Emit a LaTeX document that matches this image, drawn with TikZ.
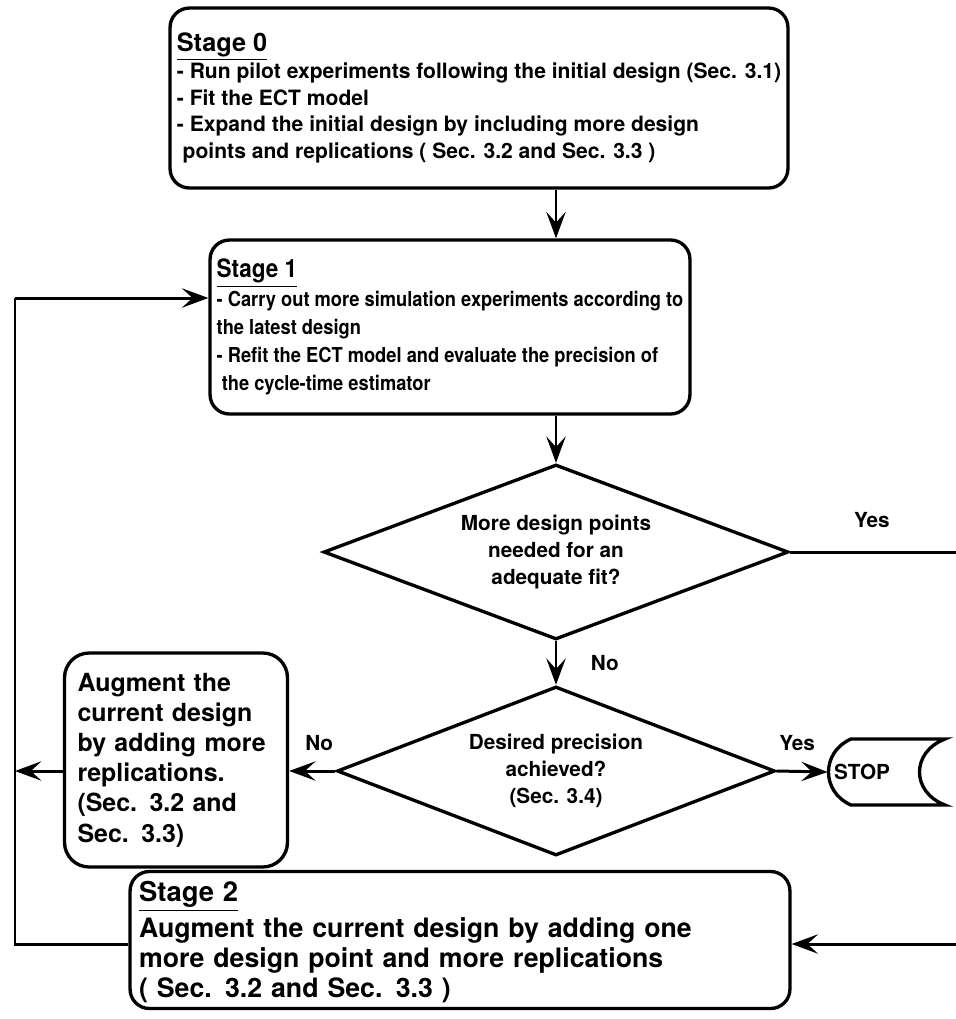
\documentclass[tikz,border=0pt]{standalone}
\usepackage{fontspec}
\setmainfont{TeX Gyre Heros}
\newfontfamily\narrowheros{TeX Gyre Heros}[FakeStretch=0.89]
\usetikzlibrary{shapes.geometric,arrows.meta}
\newcommand{\stagehead}[1]{{\fontsize{14.4}{16}\selectfont\underline{#1}}}

\begin{document}
\begin{tikzpicture}[x=0.02cm, y=-0.02cm,
    stagebox/.style={rectangle, rounded corners=11pt, draw=black, line width=1.9pt,
        align=left, inner xsep=0.1cm, inner ysep=0pt,
        font=\bfseries\fontsize{12}{15.2}\selectfont},
    decision/.style={diamond, draw=black, line width=1.9pt, aspect=2.6,
        inner sep=0pt, align=center, font=\bfseries\fontsize{11.8}{15.2}\selectfont},
    lbl/.style={font=\bfseries\fontsize{11.8}{14}\selectfont, inner sep=1pt},
    flow/.style={line width=1.7pt, -{Stealth[length=15pt, width=11pt, inset=6pt]}},
    line/.style={line width=1.7pt},
]
\useasboundingbox (0,0) rectangle (956,1019);
  % stages and decisions
  \node[stagebox, minimum width=12.36cm, minimum height=3.6cm] (s0) at (479, 98)
    {\stagehead{Stage 0}\\
     - Run pilot experiments following the initial design (Sec. 3.1)\\
     - Fit the ECT model\\
     - Expand the initial design by including more design\\
     \ points and replications ( Sec. 3.2 and Sec. 3.3 )};
  \node[stagebox, minimum width=9.6cm, minimum height=3.48cm,
    font=\bfseries\narrowheros\fontsize{11.7}{16}\selectfont] (s1) at (450, 327)
    {\stagehead{Stage 1}\\
     - Carry out more simulation experiments according to\\
     the latest design\\
     - Refit the ECT model and evaluate the precision of\\
     \ the cycle-time estimator};
  \node[decision, minimum width=9.3cm, minimum height=3.5cm] (d1) at (556, 552)
    {More design points\\ needed for an\\ adequate fit?};
  \node[decision, minimum width=8.76cm, minimum height=3.38cm] (d2) at (556, 771)
    {Desired precision\\ achieved?\\ (Sec. 3.4)};
  \node[stagebox, rounded corners=14pt, minimum width=4.46cm, minimum height=4.28cm,
    inner xsep=0.26cm, text width=3.94cm,
    font=\bfseries\fontsize{14.2}{17.2}\selectfont] (aug) at (176, 760)
    {Augment the\\ current design\\ by adding more\\ replications.\\ (Sec. 3.2 and\\ Sec. 3.3)};
  \node[stagebox, minimum width=13.2cm, minimum height=2.74cm, inner xsep=0.18cm, text width=12.84cm,
    font=\bfseries\fontsize{15.2}{17.2}\selectfont] (s2) at (460, 940)
    {\rule{0pt}{14pt}{\fontsize{15.6}{17}\selectfont\underline{Stage 2}}\\[3pt]
     Augment the current design by adding one\\
     more design point and more replications\\
     ( Sec. 3.2 and Sec. 3.3 )};
  \node[font=\bfseries\fontsize{11.8}{14}\selectfont, minimum width=1.36cm, minimum height=1.32cm] (stop) at (862, 772) {STOP};
  \draw[line width=1.9pt] (851, 739) -- (945, 739) .. controls (911, 752) and (911, 792) .. (945, 805)
    -- (851, 805) .. controls (821, 792) and (821, 752) .. (851, 739) -- cycle;
  % loop coordinates
  \coordinate (loopL) at (15, 0);
  \coordinate (loopR) at (964, 0);
  % connectors
  \draw[flow] (s0.south -| d1.north) -- (s1.north -| d1.north);
  \draw[flow] (s1.south -| d1.north) -- (d1.north);
  \draw[flow] (d1.south) -- node[lbl, right=18pt] {No} (d2.north);
  \draw[flow] (d2.west) -- node[lbl, above=10pt, pos=0.35] {No} (aug.east |- d2.west);
  \draw[flow] (d2.east) -- node[lbl, above=10pt, pos=0.4] {Yes} (stop.west);
  \draw[flow] (aug.west |- d2.west) -- (loopL |- d2.west);
  \draw[line] (d1.east) -- node[lbl, above=12pt, pos=0.47] {Yes} (d1.east -| loopR)
    -- (loopR |- 0,944);
  \draw[flow] (loopR |- 0,944) -- (s2.east |- 0,944);
  \draw[line] (s2.west |- 0,944) -- (loopL |- 0,944) -- (loopL |- 0,298);
  \draw[flow] (loopL |- 0,298) -- (s1.west |- 0,298);
\end{tikzpicture}
\end{document}
